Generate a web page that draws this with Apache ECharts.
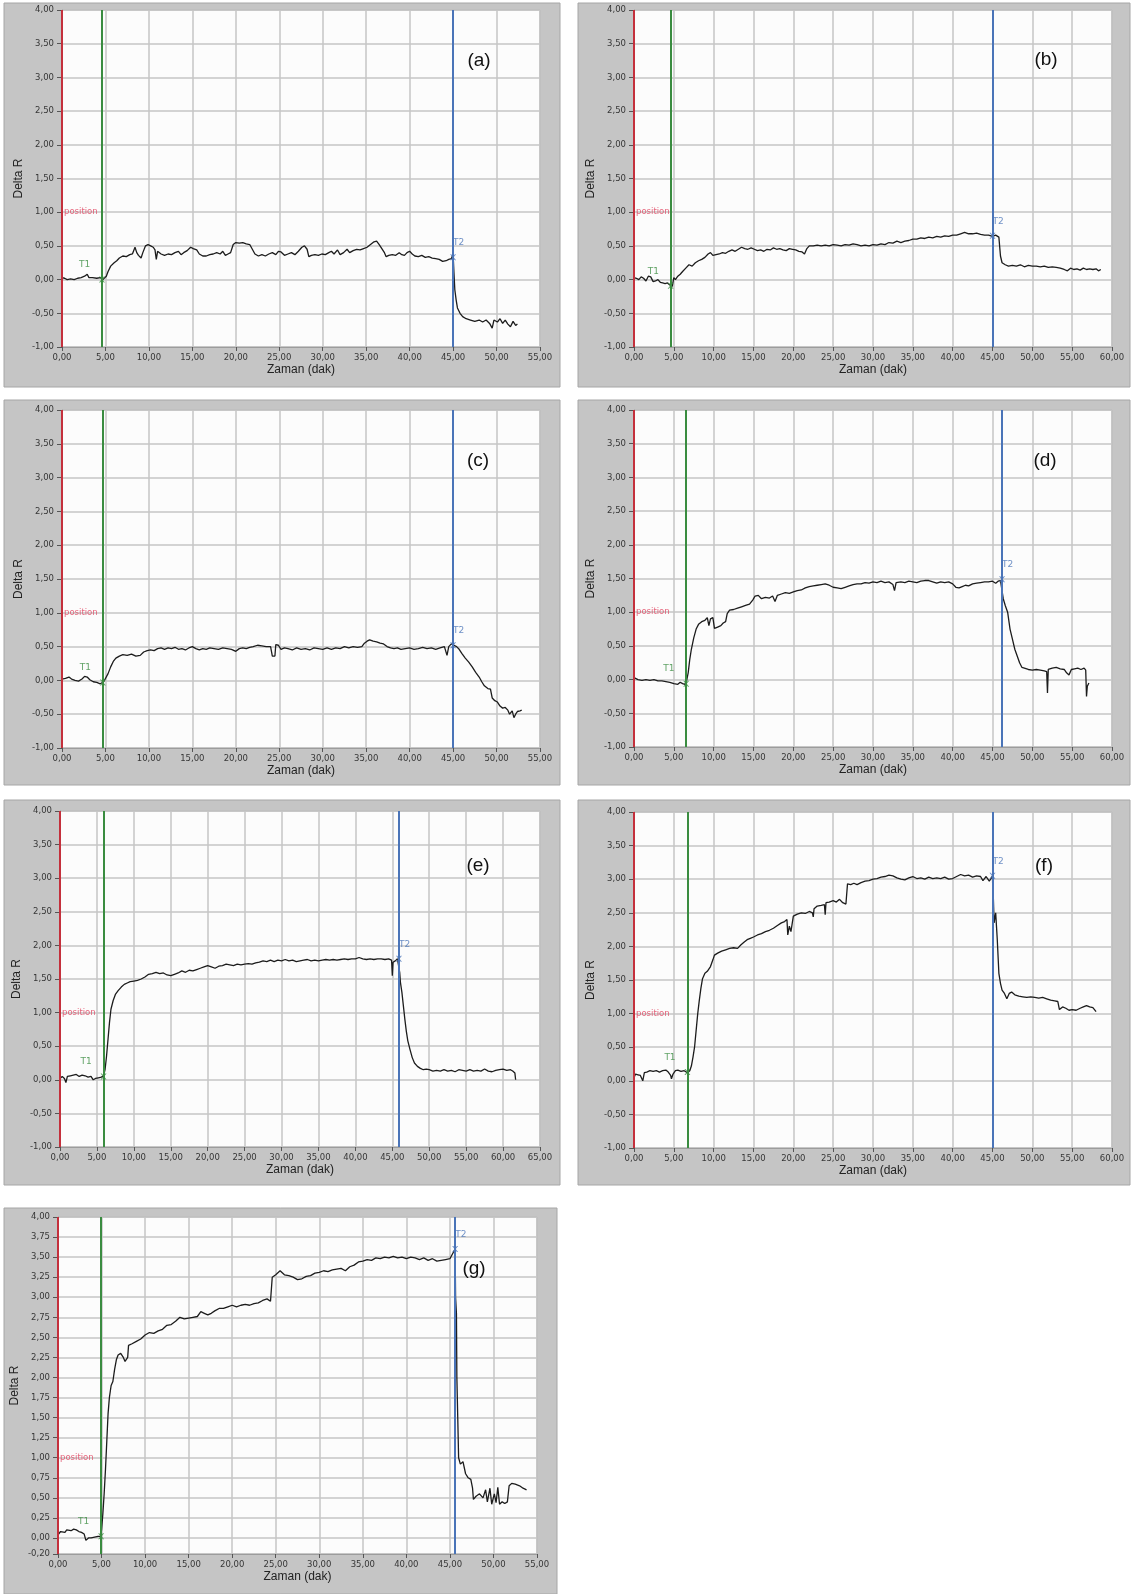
<!DOCTYPE html>
<html>
<head>
<meta charset="utf-8">
<script src="https://cdn.jsdelivr.net/npm/echarts@6/dist/echarts.min.js"></script>
<style>
html,body{margin:0;padding:0;background:#ffffff;}
#chart{width:1136px;height:1594px;}
</style>
</head>
<body>
<div id="chart"></div>
<script>
// ---------- DATA ----------
const panelNames = ['(a)', '(b)', '(c)', '(d)', '(e)', '(f)', '(g)'];
const xMaxes = [55, 60, 55, 60, 65, 60, 55];
const t1Times = [4.6, 4.6, 4.7, 6.55, 5.9, 6.7, 4.95];
const t1Vals = [0.0, -0.09, -0.03, -0.06, 0.05, 0.13, 0.02];
const t2Times = [45.0, 45.0, 45.0, 46.2, 45.9, 45.0, 45.6];
const t2Vals = [0.33, 0.65, 0.52, 1.49, 1.8, 3.05, 3.6];
const yTicksStd = [-1, -0.5, 0, 0.5, 1, 1.5, 2, 2.5, 3, 3.5, 4];
const yTicksG = [-0.2, 0, 0.25, 0.5, 0.75, 1, 1.25, 1.5, 1.75, 2, 2.25, 2.5, 2.75, 3, 3.25, 3.5, 3.75, 4];

const dataA = [[0,0.03],[0.3,0.02],[0.6,0.0],[1.0,0.01],[1.4,0.0],[1.8,0.02],[2.2,0.03],[2.6,0.05],[2.9,0.08],[3.1,0.03],[3.5,0.03],[4.0,0.02],[4.4,0.03],[4.7,0.0],[4.9,-0.02],[5.1,0.05],[5.3,0.12],[5.6,0.2],[6.0,0.25],[6.3,0.28],[6.6,0.32],[7.0,0.35],[7.4,0.34],[7.8,0.37],[8.1,0.38],[8.4,0.48],[8.6,0.4],[8.8,0.36],[9.1,0.32],[9.3,0.4],[9.6,0.5],[9.9,0.52],[10.2,0.5],[10.5,0.48],[10.7,0.44],[10.85,0.3],[11.0,0.42],[11.4,0.38],[11.8,0.36],[12.2,0.38],[12.6,0.37],[13.0,0.4],[13.4,0.42],[13.7,0.37],[14.0,0.4],[14.4,0.43],[14.8,0.48],[15.1,0.46],[15.5,0.44],[15.8,0.38],[16.2,0.35],[16.6,0.35],[17.0,0.37],[17.4,0.38],[17.8,0.4],[18.2,0.38],[18.5,0.42],[18.8,0.36],[19.1,0.38],[19.4,0.4],[19.7,0.52],[20.0,0.55],[20.4,0.54],[20.8,0.55],[21.2,0.53],[21.6,0.52],[21.9,0.45],[22.2,0.38],[22.6,0.35],[23.0,0.37],[23.4,0.35],[23.8,0.38],[24.2,0.4],[24.6,0.37],[24.9,0.42],[25.2,0.41],[25.6,0.36],[26.0,0.38],[26.4,0.4],[26.8,0.37],[27.2,0.42],[27.6,0.48],[27.9,0.5],[28.2,0.45],[28.4,0.34],[28.7,0.36],[29.1,0.37],[29.5,0.36],[29.9,0.38],[30.3,0.37],[30.7,0.4],[31.0,0.42],[31.3,0.38],[31.7,0.44],[32.0,0.37],[32.4,0.4],[32.8,0.45],[33.1,0.4],[33.5,0.43],[33.9,0.45],[34.3,0.44],[34.7,0.46],[35.1,0.48],[35.5,0.52],[35.9,0.56],[36.2,0.57],[36.5,0.52],[36.8,0.46],[37.1,0.4],[37.3,0.34],[37.6,0.36],[38.0,0.37],[38.4,0.36],[38.8,0.4],[39.1,0.37],[39.4,0.36],[39.7,0.4],[40.0,0.42],[40.3,0.38],[40.6,0.35],[41.0,0.34],[41.4,0.36],[41.8,0.33],[42.2,0.34],[42.6,0.32],[43.0,0.31],[43.4,0.3],[43.8,0.27],[44.2,0.28],[44.5,0.3],[44.8,0.31],[45.0,0.38],[45.1,0.1],[45.2,-0.15],[45.35,-0.3],[45.5,-0.42],[45.8,-0.5],[46.1,-0.55],[46.5,-0.58],[47.0,-0.6],[47.5,-0.62],[48.0,-0.6],[48.4,-0.63],[48.8,-0.6],[49.2,-0.65],[49.5,-0.72],[49.7,-0.6],[50.1,-0.63],[50.4,-0.58],[50.7,-0.65],[51.0,-0.6],[51.3,-0.66],[51.6,-0.7],[51.9,-0.62],[52.2,-0.68],[52.4,-0.66]];

const dataB = [[0,0.03],[0.3,0.02],[0.6,0.0],[0.9,0.04],[1.2,0.02],[1.5,-0.02],[1.8,0.05],[2.1,0.04],[2.4,-0.03],[2.7,-0.02],[3.0,0.0],[3.3,-0.04],[3.6,-0.05],[3.9,-0.06],[4.2,-0.05],[4.5,-0.08],[4.8,-0.1],[5.0,0.03],[5.2,0.0],[5.5,0.05],[5.8,0.08],[6.1,0.12],[6.5,0.17],[6.9,0.22],[7.3,0.2],[7.7,0.25],[8.1,0.28],[8.5,0.3],[8.9,0.33],[9.3,0.38],[9.6,0.4],[9.9,0.36],[10.3,0.37],[10.7,0.38],[11.1,0.4],[11.5,0.39],[11.9,0.42],[12.3,0.44],[12.7,0.42],[13.1,0.45],[13.5,0.48],[13.9,0.46],[14.3,0.45],[14.7,0.47],[15.1,0.45],[15.5,0.43],[15.9,0.44],[16.3,0.42],[16.7,0.45],[17.1,0.44],[17.5,0.47],[17.9,0.45],[18.3,0.46],[18.7,0.44],[19.1,0.43],[19.5,0.46],[19.9,0.45],[20.3,0.44],[20.7,0.42],[21.1,0.41],[21.4,0.38],[21.7,0.46],[22.0,0.5],[22.5,0.5],[23.0,0.51],[23.5,0.5],[24.0,0.51],[24.5,0.5],[25.0,0.52],[25.5,0.51],[26.0,0.5],[26.5,0.52],[27.0,0.51],[27.5,0.53],[28.0,0.52],[28.5,0.5],[29.0,0.51],[29.5,0.5],[30.0,0.52],[30.5,0.51],[31.0,0.53],[31.5,0.52],[32.0,0.55],[32.5,0.54],[33.0,0.57],[33.5,0.55],[34.0,0.57],[34.5,0.58],[35.0,0.6],[35.5,0.6],[36.0,0.62],[36.5,0.61],[37.0,0.63],[37.5,0.62],[38.0,0.64],[38.5,0.63],[39.0,0.65],[39.5,0.64],[40.0,0.66],[40.5,0.66],[41.0,0.68],[41.5,0.7],[42.0,0.68],[42.5,0.68],[43.0,0.69],[43.5,0.67],[44.0,0.66],[44.5,0.66],[45.0,0.64],[45.4,0.66],[45.8,0.63],[46.0,0.35],[46.2,0.25],[46.6,0.22],[47.0,0.2],[47.5,0.21],[48.0,0.2],[48.5,0.22],[49.0,0.19],[49.5,0.21],[50.0,0.2],[50.5,0.2],[51.0,0.19],[51.5,0.2],[52.0,0.18],[52.5,0.19],[53.0,0.18],[53.5,0.17],[54.0,0.15],[54.4,0.13],[54.8,0.17],[55.2,0.15],[55.6,0.16],[56.0,0.14],[56.4,0.17],[56.8,0.15],[57.2,0.16],[57.6,0.15],[58.0,0.16],[58.3,0.13],[58.6,0.15]];

const dataC = [[0,0.02],[0.4,0.03],[0.8,0.05],[1.1,0.02],[1.5,0.0],[1.9,-0.01],[2.3,0.02],[2.6,0.06],[2.9,0.05],[3.2,0.01],[3.6,-0.02],[4.0,-0.03],[4.4,-0.05],[4.8,-0.02],[5.0,0.0],[5.3,0.1],[5.6,0.2],[5.9,0.28],[6.2,0.33],[6.6,0.36],[7.0,0.38],[7.5,0.37],[8.0,0.39],[8.5,0.36],[9.0,0.37],[9.4,0.42],[9.8,0.44],[10.2,0.45],[10.6,0.44],[11.0,0.47],[11.4,0.48],[11.8,0.46],[12.2,0.48],[12.6,0.47],[13.0,0.49],[13.4,0.46],[13.8,0.47],[14.2,0.45],[14.6,0.48],[15.0,0.5],[15.4,0.47],[15.8,0.45],[16.2,0.47],[16.6,0.46],[17.0,0.48],[17.5,0.47],[18.0,0.46],[18.5,0.48],[19.0,0.47],[19.5,0.46],[20.0,0.43],[20.4,0.47],[20.8,0.48],[21.2,0.47],[21.6,0.49],[22.0,0.5],[22.5,0.52],[23.0,0.51],[23.5,0.5],[24.0,0.5],[24.2,0.36],[24.5,0.36],[24.6,0.53],[24.9,0.52],[25.2,0.46],[25.6,0.48],[26.0,0.47],[26.5,0.45],[27.0,0.48],[27.5,0.46],[28.0,0.47],[28.5,0.45],[29.0,0.48],[29.5,0.47],[30.0,0.46],[30.5,0.48],[31.0,0.46],[31.5,0.48],[32.0,0.47],[32.5,0.5],[33.0,0.48],[33.5,0.5],[34.0,0.49],[34.5,0.5],[34.8,0.55],[35.1,0.58],[35.4,0.6],[35.8,0.58],[36.2,0.57],[36.6,0.55],[37.0,0.54],[37.4,0.5],[37.8,0.48],[38.2,0.47],[38.6,0.48],[39.0,0.46],[39.5,0.47],[40.0,0.48],[40.5,0.46],[41.0,0.47],[41.5,0.49],[42.0,0.47],[42.5,0.48],[43.0,0.46],[43.5,0.48],[44.0,0.5],[44.3,0.37],[44.5,0.5],[44.8,0.54],[45.1,0.52],[45.4,0.5],[45.7,0.46],[46.0,0.4],[46.4,0.33],[46.8,0.27],[47.2,0.2],[47.6,0.12],[48.0,0.05],[48.3,-0.02],[48.6,-0.08],[49.0,-0.12],[49.3,-0.13],[49.5,-0.26],[49.8,-0.3],[50.1,-0.32],[50.4,-0.38],[50.7,-0.41],[51.0,-0.4],[51.3,-0.44],[51.5,-0.5],[51.8,-0.45],[52.0,-0.55],[52.2,-0.5],[52.4,-0.46],[52.7,-0.45],[52.9,-0.44]];

const dataD = [[0,0.03],[0.5,0.0],[1.0,-0.01],[1.5,0.0],[2.0,-0.01],[2.5,0.0],[3.0,-0.02],[3.5,-0.02],[4.0,-0.03],[4.5,-0.04],[5.0,-0.06],[5.5,-0.07],[5.8,-0.04],[6.1,-0.06],[6.4,-0.07],[6.6,-0.02],[6.8,0.1],[7.0,0.3],[7.2,0.45],[7.5,0.62],[7.8,0.75],[8.1,0.82],[8.5,0.86],[8.9,0.88],[9.2,0.92],[9.4,0.8],[9.6,0.9],[9.9,0.92],[10.1,0.76],[10.5,0.78],[10.9,0.8],[11.2,0.84],[11.5,0.86],[11.7,0.98],[12.0,1.03],[12.5,1.04],[13.0,1.06],[13.5,1.08],[14.0,1.1],[14.5,1.12],[14.9,1.18],[15.2,1.24],[15.6,1.25],[16.0,1.2],[16.5,1.22],[17.0,1.21],[17.4,1.24],[17.7,1.16],[18.0,1.25],[18.5,1.27],[19.0,1.29],[19.5,1.28],[20.0,1.3],[20.5,1.32],[21.0,1.33],[21.5,1.36],[22.0,1.38],[22.5,1.39],[23.0,1.4],[23.5,1.41],[24.0,1.42],[24.5,1.4],[25.0,1.37],[25.5,1.36],[26.0,1.35],[26.5,1.37],[27.0,1.39],[27.5,1.41],[28.0,1.42],[28.5,1.42],[29.0,1.44],[29.5,1.43],[30.0,1.45],[30.5,1.44],[31.0,1.46],[31.5,1.44],[32.0,1.45],[32.5,1.41],[32.7,1.32],[32.9,1.44],[33.5,1.45],[34.0,1.44],[34.5,1.46],[35.0,1.45],[35.5,1.44],[36.0,1.46],[36.5,1.47],[37.0,1.47],[37.5,1.45],[38.0,1.43],[38.5,1.45],[39.0,1.44],[39.5,1.45],[40.0,1.42],[40.4,1.37],[40.8,1.36],[41.2,1.38],[41.6,1.4],[42.0,1.39],[42.5,1.42],[43.0,1.43],[43.5,1.44],[44.0,1.45],[44.5,1.45],[45.0,1.46],[45.4,1.43],[45.7,1.46],[46.0,1.47],[46.2,1.49],[46.35,1.2],[46.6,1.1],[46.9,1.0],[47.2,0.75],[47.5,0.6],[47.8,0.45],[48.1,0.35],[48.4,0.25],[48.7,0.18],[49.0,0.17],[49.5,0.15],[50.0,0.14],[50.5,0.15],[51.0,0.14],[51.5,0.13],[51.8,0.12],[51.9,-0.2],[52.0,0.15],[52.5,0.17],[53.0,0.18],[53.5,0.16],[54.0,0.15],[54.3,0.1],[54.6,0.07],[54.9,0.15],[55.3,0.16],[55.7,0.17],[56.1,0.15],[56.5,0.17],[56.7,0.14],[56.8,-0.25],[56.9,-0.1],[57.1,-0.05]];

const dataE = [[0,0.02],[0.3,0.05],[0.6,0.02],[0.8,-0.04],[1.0,0.05],[1.4,0.06],[1.8,0.07],[2.2,0.08],[2.6,0.05],[3.0,0.07],[3.4,0.06],[3.8,0.04],[4.2,0.05],[4.5,0.0],[4.8,0.02],[5.2,0.03],[5.6,0.04],[5.9,0.06],[6.1,0.15],[6.3,0.35],[6.5,0.6],[6.7,0.85],[6.9,1.05],[7.2,1.18],[7.5,1.27],[7.9,1.33],[8.3,1.38],[8.7,1.42],[9.1,1.44],[9.5,1.46],[10.0,1.47],[10.5,1.48],[11.0,1.5],[11.5,1.53],[12.0,1.57],[12.5,1.58],[13.0,1.6],[13.5,1.58],[14.0,1.59],[14.5,1.56],[15.0,1.55],[15.5,1.57],[16.0,1.59],[16.5,1.62],[17.0,1.6],[17.5,1.63],[18.0,1.62],[18.5,1.64],[19.0,1.66],[19.5,1.68],[20.0,1.7],[20.5,1.68],[21.0,1.66],[21.5,1.69],[22.0,1.7],[22.5,1.72],[23.0,1.71],[23.5,1.7],[24.0,1.72],[24.5,1.71],[25.0,1.72],[25.5,1.73],[26.0,1.72],[26.5,1.74],[27.0,1.75],[27.5,1.77],[28.0,1.76],[28.5,1.78],[29.0,1.76],[29.5,1.78],[30.0,1.77],[30.5,1.79],[31.0,1.77],[31.5,1.78],[32.0,1.76],[32.5,1.77],[33.0,1.78],[33.5,1.79],[34.0,1.77],[34.5,1.78],[35.0,1.77],[35.5,1.78],[36.0,1.79],[36.5,1.78],[37.0,1.79],[37.5,1.78],[38.0,1.79],[38.5,1.8],[39.0,1.79],[39.5,1.8],[40.0,1.8],[40.5,1.82],[41.0,1.8],[41.5,1.79],[42.0,1.8],[42.5,1.79],[43.0,1.8],[43.5,1.8],[44.0,1.79],[44.5,1.8],[44.9,1.78],[45.0,1.55],[45.1,1.75],[45.4,1.77],[45.7,1.8],[45.9,1.8],[46.0,1.6],[46.1,1.45],[46.3,1.3],[46.5,1.1],[46.7,0.9],[46.9,0.72],[47.1,0.58],[47.4,0.45],[47.7,0.33],[48.0,0.25],[48.4,0.2],[48.8,0.17],[49.2,0.15],[49.6,0.16],[50.0,0.15],[50.5,0.13],[51.0,0.14],[51.5,0.13],[52.0,0.15],[52.5,0.13],[53.0,0.14],[53.5,0.12],[54.0,0.15],[54.5,0.14],[55.0,0.13],[55.5,0.15],[56.0,0.13],[56.5,0.14],[57.0,0.13],[57.5,0.16],[58.0,0.13],[58.5,0.12],[59.0,0.14],[59.5,0.15],[60.0,0.16],[60.5,0.14],[61.0,0.15],[61.3,0.13],[61.6,0.1],[61.7,0.0]];

const dataF = [[0,0.05],[0.2,0.1],[0.5,0.09],[0.8,0.08],[1.0,0.06],[1.1,0.0],[1.3,0.12],[1.6,0.13],[2.0,0.15],[2.4,0.14],[2.8,0.15],[3.2,0.13],[3.6,0.15],[4.0,0.16],[4.3,0.13],[4.6,0.08],[4.7,0.03],[4.9,0.1],[5.2,0.15],[5.5,0.16],[5.9,0.14],[6.3,0.15],[6.7,0.12],[7.0,0.15],[7.2,0.22],[7.4,0.35],[7.6,0.5],[7.8,0.75],[8.0,1.0],[8.2,1.2],[8.4,1.38],[8.6,1.52],[8.9,1.6],[9.2,1.63],[9.6,1.7],[9.9,1.8],[10.1,1.87],[10.5,1.9],[11.0,1.93],[11.5,1.95],[12.0,1.97],[12.5,1.98],[13.0,1.97],[13.4,2.02],[13.8,2.06],[14.2,2.1],[14.6,2.12],[15.0,2.14],[15.5,2.17],[16.0,2.19],[16.5,2.22],[17.0,2.24],[17.5,2.27],[18.0,2.31],[18.5,2.35],[18.9,2.37],[19.2,2.4],[19.3,2.17],[19.5,2.3],[19.7,2.22],[19.9,2.2],[20.0,2.45],[20.5,2.48],[21.0,2.5],[21.5,2.49],[22.0,2.52],[22.4,2.5],[22.5,2.44],[22.6,2.56],[23.0,2.6],[23.5,2.61],[23.9,2.62],[24.0,2.47],[24.1,2.65],[24.5,2.66],[25.0,2.68],[25.4,2.66],[25.8,2.7],[26.2,2.65],[26.6,2.63],[26.8,2.93],[27.2,2.92],[27.6,2.94],[28.0,2.92],[28.5,2.95],[29.0,2.97],[29.5,2.98],[30.0,3.0],[30.5,3.01],[31.0,3.03],[31.5,3.04],[32.0,3.06],[32.5,3.05],[33.0,3.02],[33.5,3.0],[34.0,2.99],[34.5,3.02],[35.0,3.04],[35.5,3.01],[36.0,3.02],[36.5,3.0],[37.0,3.03],[37.5,3.01],[38.0,3.02],[38.5,3.01],[39.0,3.03],[39.5,3.0],[40.0,3.01],[40.5,3.04],[41.0,3.07],[41.5,3.05],[42.0,3.06],[42.5,3.03],[43.0,3.05],[43.5,3.04],[43.8,2.98],[44.2,3.04],[44.6,2.97],[45.0,3.05],[45.05,2.7],[45.1,2.75],[45.2,2.35],[45.4,2.5],[45.6,2.1],[45.8,1.6],[46.0,1.45],[46.2,1.35],[46.5,1.3],[46.8,1.22],[47.1,1.3],[47.4,1.32],[47.8,1.28],[48.3,1.26],[48.8,1.25],[49.3,1.24],[49.8,1.25],[50.3,1.24],[50.8,1.23],[51.3,1.24],[51.8,1.22],[52.3,1.2],[52.8,1.19],[53.2,1.18],[53.4,1.06],[53.8,1.1],[54.2,1.08],[54.6,1.05],[55.0,1.06],[55.5,1.05],[56.0,1.08],[56.4,1.1],[56.8,1.12],[57.2,1.1],[57.6,1.09],[58.0,1.03]];

const dataG = [[0,0.04],[0.3,0.08],[0.5,0.1],[0.8,0.07],[1.0,0.1],[1.2,0.12],[1.5,0.09],[1.8,0.11],[2.1,0.1],[2.4,0.08],[2.7,0.07],[3.0,0.05],[3.2,-0.03],[3.5,0.0],[3.8,0.0],[4.2,0.01],[4.6,0.02],[4.9,0.02],[5.0,0.1],[5.15,0.3],[5.3,0.55],[5.45,0.85],[5.6,1.2],[5.75,1.55],[5.9,1.75],[6.1,1.9],[6.3,1.95],[6.5,2.1],[6.7,2.22],[6.9,2.28],[7.2,2.3],[7.5,2.25],[7.7,2.2],[8.0,2.25],[8.1,2.4],[8.5,2.42],[9.0,2.45],[9.5,2.48],[10.0,2.53],[10.5,2.56],[11.0,2.55],[11.5,2.58],[12.0,2.6],[12.5,2.65],[13.0,2.66],[13.5,2.7],[14.0,2.75],[14.5,2.73],[15.0,2.74],[15.5,2.75],[16.0,2.76],[16.4,2.82],[16.8,2.8],[17.2,2.78],[17.6,2.8],[18.0,2.83],[18.5,2.86],[19.0,2.86],[19.5,2.88],[20.0,2.9],[20.5,2.88],[21.0,2.9],[21.5,2.91],[22.0,2.9],[22.5,2.92],[23.0,2.93],[23.5,2.96],[24.0,2.98],[24.4,2.95],[24.6,3.25],[25.0,3.28],[25.5,3.33],[26.0,3.28],[26.5,3.27],[27.0,3.25],[27.5,3.22],[28.0,3.23],[28.5,3.26],[29.0,3.27],[29.5,3.3],[30.0,3.31],[30.5,3.33],[31.0,3.32],[31.5,3.34],[32.0,3.35],[32.5,3.36],[33.0,3.33],[33.5,3.38],[34.0,3.4],[34.5,3.44],[35.0,3.45],[35.5,3.47],[36.0,3.46],[36.5,3.49],[37.0,3.48],[37.5,3.5],[38.0,3.49],[38.5,3.51],[39.0,3.49],[39.5,3.5],[40.0,3.48],[40.5,3.5],[41.0,3.49],[41.5,3.47],[42.0,3.49],[42.5,3.46],[43.0,3.48],[43.5,3.45],[44.0,3.46],[44.5,3.47],[45.0,3.48],[45.4,3.56],[45.6,3.6],[45.65,3.0],[45.75,2.8],[45.8,2.0],[45.9,1.5],[46.0,1.0],[46.2,0.92],[46.5,0.95],[46.8,0.8],[47.1,0.75],[47.4,0.73],[47.6,0.62],[47.7,0.48],[48.0,0.52],[48.4,0.55],[48.8,0.5],[49.1,0.6],[49.3,0.45],[49.6,0.62],[49.8,0.42],[50.1,0.55],[50.3,0.44],[50.5,0.63],[50.7,0.42],[51.0,0.45],[51.3,0.43],[51.6,0.45],[51.8,0.65],[52.1,0.68],[52.5,0.67],[53.0,0.65],[53.4,0.62],[53.8,0.6]];

const allData = [dataA, dataB, dataC, dataD, dataE, dataF, dataG];

// ---------- LAYOUT ----------
const gridBoxes = [
  {left: 62, top: 10, width: 478, height: 337},
  {left: 634, top: 10, width: 478, height: 337},
  {left: 62, top: 410, width: 478, height: 338},
  {left: 634, top: 410, width: 478, height: 337},
  {left: 60, top: 811, width: 480, height: 336},
  {left: 634, top: 812, width: 478, height: 336},
  {left: 58, top: 1217, width: 479, height: 337}
];
const frames = [
  [4, 3, 556, 384], [578, 3, 552, 384],
  [4, 400, 556, 385], [578, 400, 552, 385],
  [4, 800, 556, 385], [578, 800, 552, 385],
  [4, 1208, 553, 386]
];
const labelPos = [[479, 61], [1046, 60], [478, 461], [1045, 461], [478, 866], [1044, 866], [474, 1269]];

const fmt = v => (Math.round(v * 100) / 100).toFixed(2).replace('.', ',');
const tickFont = {fontFamily: 'DejaVu Sans', fontSize: 8.5, color: '#363636'};
const RED = '#c4303c', GREEN = '#3a8c40', BLUE = '#4a74b8';
const xMark = 'path://M0,0 L2,0 L5,3.5 L8,0 L10,0 L6,5 L10,10 L8,10 L5,6.5 L2,10 L0,10 L4,5 Z';

const grids = [], xAxes = [], yAxes = [], series = [], graphics = [];

frames.forEach(f => {
  graphics.push({type: 'rect', z: -10, silent: true,
    shape: {x: f[0], y: f[1], width: f[2], height: f[3]},
    style: {fill: '#c5c5c5', stroke: '#a6a6a6', lineWidth: 1}});
});

allData.forEach((d, i) => {
  const isG = i === 6;
  grids.push(Object.assign({show: true, backgroundColor: '#fcfcfc', borderColor: '#9c9c9c', borderWidth: 1}, gridBoxes[i]));
  xAxes.push({
    type: 'value', gridIndex: i, min: 0, max: xMaxes[i], interval: 5,
    name: 'Zaman (dak)', nameLocation: 'middle', nameGap: 17,
    nameTextStyle: {fontFamily: 'Liberation Sans', fontSize: 12, color: '#222'},
    axisLine: {show: true, onZero: false, lineStyle: {color: '#9c9c9c'}},
    axisTick: {show: true, length: 4, inside: false, lineStyle: {color: '#555'}},
    axisLabel: Object.assign({formatter: fmt, margin: 6, showMinLabel: true, showMaxLabel: true}, tickFont),
    splitLine: {show: true, lineStyle: {color: '#c6c6c6', width: 1.5}}
  });
  const yTicks = isG ? yTicksG : yTicksStd;
  yAxes.push({
    type: 'value', gridIndex: i, min: yTicks[0], max: yTicks[yTicks.length - 1],
    interval: isG ? undefined : 0.5,
    name: 'Delta R', nameLocation: 'middle', nameGap: 37,
    nameTextStyle: {fontFamily: 'Liberation Sans', fontSize: 12, color: '#222'},
    axisLine: {show: true, onZero: false, lineStyle: {color: '#9c9c9c'}},
    axisTick: isG ? {show: true, length: 5, customValues: yTicks, lineStyle: {color: '#555'}}
                  : {show: true, length: 5, lineStyle: {color: '#555'}},
    axisLabel: Object.assign(isG ? {formatter: fmt, margin: 8, customValues: yTicks} : {formatter: fmt, margin: 8}, tickFont),
    splitLine: isG ? {show: true, customValues: yTicks, lineStyle: {color: '#c6c6c6', width: 1.5}}
                   : {show: true, lineStyle: {color: '#c6c6c6', width: 1.5}}
  });
  series.push({
    type: 'line', xAxisIndex: i, yAxisIndex: i, data: d, showSymbol: false,
    lineStyle: {color: '#1c1c1c', width: 1.3}, z: 3, animation: false,
    markLine: {
      silent: true, symbol: 'none', animation: false, label: {show: false},
      data: [
        {xAxis: 0, lineStyle: {color: RED, width: 2, type: 'solid'}},
        {xAxis: t1Times[i], lineStyle: {color: GREEN, width: 2, type: 'solid'}},
        {xAxis: t2Times[i], lineStyle: {color: BLUE, width: 2, type: 'solid'}}
      ]
    }
  });
  series.push({
    type: 'scatter', xAxisIndex: i, yAxisIndex: i, z: 5, animation: false, silent: true,
    data: [
      {value: [0, 1.0], symbolSize: 0,
        label: {show: true, formatter: 'position', position: 'right', distance: 2,
          color: '#e0405c', fontFamily: 'DejaVu Sans', fontSize: 8.5}},
      {value: [t1Times[i], t1Vals[i]], symbol: xMark, symbolSize: 6, itemStyle: {color: GREEN},
        label: {show: true, formatter: 'T1', position: [-20, -16],
          color: GREEN, fontFamily: 'DejaVu Sans', fontSize: 9}},
      {value: [t2Times[i], t2Vals[i]], symbol: xMark, symbolSize: 6, itemStyle: {color: BLUE},
        label: {show: true, formatter: 'T2', position: [3, -16],
          color: BLUE, fontFamily: 'DejaVu Sans', fontSize: 9}}
    ]
  });
  graphics.push({type: 'text', z: 10, silent: true, x: labelPos[i][0], y: labelPos[i][1],
    style: {text: panelNames[i], font: '19px "Liberation Sans"', fill: '#111', align: 'center', verticalAlign: 'middle'}});
});

const chart = echarts.init(document.getElementById('chart'), null, {renderer: 'canvas'});
chart.setOption({
  backgroundColor: '#ffffff',
  animation: false,
  grid: grids, xAxis: xAxes, yAxis: yAxes, series: series,
  graphic: {elements: graphics}
});
</script>
</body>
</html>
